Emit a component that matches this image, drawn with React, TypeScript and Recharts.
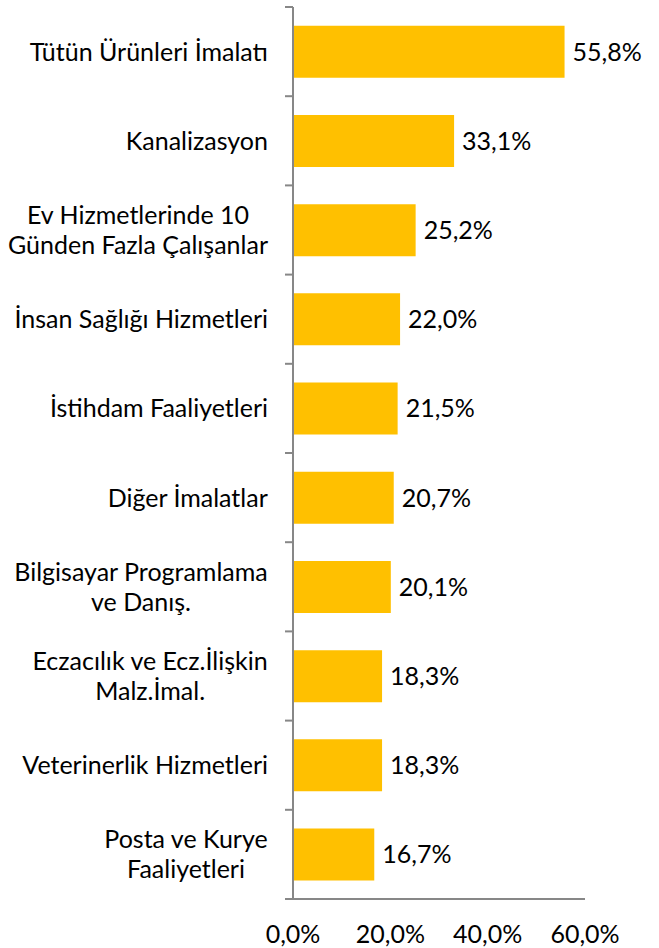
import React from 'react';
import { BarChart, Bar, XAxis, YAxis, LabelList } from 'recharts';

const categories = [
  'Tütün Ürünleri İmalatı',
  'Kanalizasyon',
  'Ev Hizmetlerinde 10\nGünden Fazla Çalışanlar',
  'İnsan Sağlığı Hizmetleri',
  'İstihdam Faaliyetleri',
  'Diğer İmalatlar',
  'Bilgisayar Programlama\nve Danış.',
  'Eczacılık ve Ecz.İlişkin\nMalz.İmal.',
  'Veterinerlik Hizmetleri',
  'Posta ve Kurye\nFaaliyetleri',
];
const shares = [55.8, 33.1, 25.2, 22.0, 21.5, 20.7, 20.1, 18.3, 18.3, 16.7];
const xTicks = [0, 20, 40, 60];

const data = categories.map((name, i) => ({ name, value: shares[i] }));

const W = 659;
const H = 948;
const TOP = 7;
const BOTTOM = 899;
const AXIS_X = 293;
const BAND = (BOTTOM - TOP) / categories.length;
const FONT = 'Lato, "Open Sans", sans-serif';
const FONT_SIZE = 25;
const AXIS_COLOR = '#878787';

const pct = (v: number) => `${v.toFixed(1).replace('.', ',')}%`;

let ctx: CanvasRenderingContext2D | null = null;
function textWidth(s: string) {
  if (!ctx) ctx = document.createElement('canvas').getContext('2d');
  if (!ctx) return s.length * FONT_SIZE * 0.5;
  ctx.font = `${FONT_SIZE}px Lato`;
  return ctx.measureText(s).width;
}

function CategoryTick(props: any) {
  const { y, payload, index } = props;
  const lines: string[] = String(payload.value).split('\n');
  const blockW = Math.max(...lines.map(textWidth));
  const cx = 268 - blockW / 2;
  const lh = 30;
  const start = y - ((lines.length - 1) * lh) / 2;
  return (
    <g>
      <line x1={AXIS_X - 8} x2={AXIS_X} y1={y - BAND / 2} y2={y - BAND / 2} stroke={AXIS_COLOR} strokeWidth={2} />
      {index === categories.length - 1 && (
        <line x1={AXIS_X - 8} x2={AXIS_X} y1={y + BAND / 2} y2={y + BAND / 2} stroke={AXIS_COLOR} strokeWidth={2} />
      )}
      {lines.map((l, i) => (
        <text key={i} x={cx} y={start + i * lh} dy="0.36em" textAnchor="middle" fill="#000" fontSize={FONT_SIZE} fontFamily={FONT}>
          {l}
        </text>
      ))}
    </g>
  );
}

export default function App() {
  return (
    <div style={{ position: 'absolute', left: 0, top: 0, width: W, height: H, background: '#fff' }}>
      <BarChart
        width={W}
        height={H}
        data={data}
        layout="vertical"
        margin={{ top: TOP, right: W - 585, bottom: 0, left: 0 }}
        barCategoryGap="21%"
      >
        <XAxis
          type="number"
          domain={[0, 60]}
          ticks={xTicks}
          tickFormatter={pct}
          axisLine={{ stroke: AXIS_COLOR, strokeWidth: 2 }}
          tickLine={false}
          tickMargin={20}
          height={H - BOTTOM}
          tick={{ fill: '#000', fontSize: FONT_SIZE, fontFamily: FONT }}
        />
        <YAxis
          type="category"
          dataKey="name"
          width={AXIS_X}
          axisLine={{ stroke: AXIS_COLOR, strokeWidth: 2 }}
          tickLine={false}
          interval={0}
          tick={<CategoryTick />}
        />
        <Bar dataKey="value" fill="#FFC000" isAnimationActive={false}>
          <LabelList
            dataKey="value"
            position="right"
            offset={8}
            formatter={(v: any) => pct(Number(v))}
            fill="#000"
            fontSize={FONT_SIZE}
            fontFamily={FONT}
          />
        </Bar>
      </BarChart>
    </div>
  );
}
